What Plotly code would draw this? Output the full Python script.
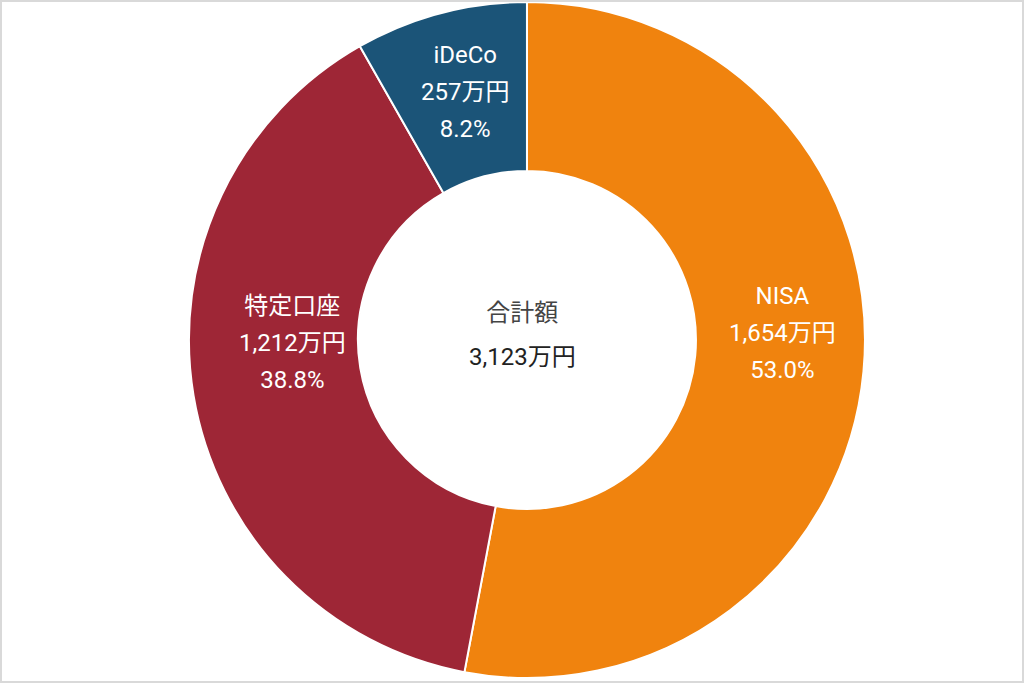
import plotly.graph_objects as go

# 口座別の評価額（万円）
labels = ["NISA", "特定口座", "iDeCo"]
values = [1654, 1212, 257]
colors = ["#F0830E", "#9E2636", "#1B5478"]
center_title = "合計額"

total = sum(values)
shares = [v / total * 100 for v in values]

fig = go.Figure(go.Pie(
    labels=labels,
    values=values,
    sort=False,
    direction="clockwise",
    rotation=0,
    hole=0.5,
    marker=dict(colors=colors, line=dict(color="white", width=2)),
    textinfo="none",
    hovertemplate="%{label}<br>%{value:,}万円<br>%{percent}<extra></extra>",
    domain=dict(x=[0.1646, 0.8646], y=[5 / 683, 1 - 2 / 683]),
    showlegend=False,
))

# ラベル位置（各スライスの中）
label_pos = {"NISA": (0.7646, 0.5124), "特定口座": (0.2852, 0.4978), "iDeCo": (0.4541, 0.8653)}

span = "<span style='font-size:24px'>{}</span>"
for lab, val, pct in zip(labels, values, shares):
    x, y = label_pos[lab]
    txt = "<br>".join([span.format(lab), span.format(f"{val:,}万円"), span.format(f"{pct:.1f}%")])
    fig.add_annotation(x=x, y=y, xref="paper", yref="paper", text=txt, showarrow=False,
                       font=dict(size=28.5, color="white"), xanchor="center", yanchor="middle")

center_txt = (f"<span style='font-size:24px;color:#444444'>{center_title}</span><br>"
              f"<span style='font-size:24px;color:#222222'>{total:,}万円</span>")
fig.add_annotation(x=0.5107, y=0.5095, xref="paper", yref="paper", text=center_txt, showarrow=False,
                   font=dict(size=33.8, color="#222222"), xanchor="center", yanchor="middle")

fig.add_shape(type="rect", xref="paper", yref="paper", x0=0, y0=0, x1=1, y1=1,
              line=dict(color="#D9D9D9", width=4))

fig.update_layout(
    width=1024, height=683,
    margin=dict(l=0, r=0, t=0, b=0),
    paper_bgcolor="white",
    font=dict(family="Roboto, 'Noto Sans CJK JP', sans-serif"),
)

fig.write_html("out.html", config={"displayModeBar": False},
               post_script="document.body.style.margin='0';document.body.style.overflow='hidden';")
